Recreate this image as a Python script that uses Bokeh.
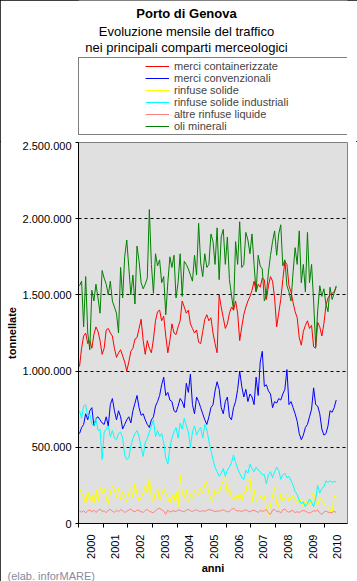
import numpy as np
from bokeh.plotting import figure
from bokeh.layouts import column
from bokeh.models import FixedTicker, Legend, LegendItem, Title, Label, Range1d
from bokeh.embed import file_html
from bokeh.resources import INLINE

# ---------------- data (monthly, thousand tonnes, Jan 2000 - Jun 2010) ----------------
years = ["2000", "2001", "2002", "2003", "2004", "2005", "2006", "2007", "2008", "2009", "2010"]
y_ticks = [0, 500000, 1000000, 1500000, 2000000, 2500000]
y_tick_labels = ["0", "500.000", "1.000.000", "1.500.000", "2.000.000", "2.500.000"]
series_names = ["merci containerizzate", "merci convenzionali", "rinfuse solide",
                "rinfuse solide industriali", "altre rinfuse liquide", "oli minerali"]
series_colors = ["#FF0000", "#0000FF", "#FFFF00", "#00FFFF", "#FF8080", "#008000"]

merci_containerizzate = [
    1030, 1150, 1230, 1250, 1180, 1200, 1150, 1240, 1290, 1260, 1200, 1110,
    1150, 1270, 1280, 1250, 1230, 1150, 1090, 1120, 1140, 1100, 1060, 1000,
    1060, 1130, 1150, 1210, 1220, 1280, 1340, 1200, 1110, 1200, 1150, 1120,
    1210, 1330, 1390, 1400, 1330, 1360, 1230, 1120, 1200, 1310, 1250, 1240,
    1290, 1330, 1460, 1420, 1380, 1400, 1310, 1280, 1250, 1270, 1190, 1180,
    1260, 1340, 1370, 1330, 1350, 1250, 1180, 1120, 1500, 1420, 1350, 1280,
    1310, 1380, 1420, 1400, 1460, 1380, 1200, 1290, 1370, 1420, 1460, 1490,
    1530, 1590, 1520, 1570, 1550, 1610, 1600, 1470, 1560, 1620, 1590, 1480,
    1290, 1380, 1470, 1600, 1720, 1700, 1560, 1520, 1450, 1390, 1350, 1220,
    1170, 1260, 1300, 1330, 1280, 1300, 1160, 1150, 1320, 1290, 1230, 1310,
    1430, 1480, 1500, 1510, 1520, 1550,
]
merci_convenzionali = [
    590, 630, 650, 720, 680, 740, 760, 640, 690, 700, 680, 660,
    650, 700, 640, 780, 820, 740, 680, 740, 700, 620, 650, 680,
    700, 660, 740, 790, 840, 760, 710, 720, 680, 650, 630, 680,
    700, 770, 800, 840, 910, 960, 840, 860, 810, 800, 740, 730,
    770, 820, 800, 760, 920, 860, 980, 780, 720, 830, 800, 760,
    720, 680, 650, 700, 760, 780, 870, 930, 880, 760, 720, 800,
    830, 700, 680, 760, 800, 880, 1000, 900, 830, 880, 800, 850,
    830, 780, 960, 840, 1060, 1130, 900, 910, 870, 850, 760, 800,
    790, 820, 810, 850, 880, 1010, 780, 800, 760, 720, 670, 590,
    550, 580, 630, 650, 700, 750, 890, 780, 770, 720, 620, 580,
    590, 640, 740, 730, 760, 810,
]
rinfuse_solide = [
    230, 200, 170, 130, 210, 150, 190, 130, 220, 140, 240, 200,
    230, 170, 130, 200, 250, 220, 170, 230, 160, 210, 180, 140,
    200, 230, 170, 260, 190, 150, 170, 200, 250, 200, 300, 170,
    140, 210, 230, 150, 190, 230, 200, 170, 130, 190, 150, 210,
    110, 320, 200, 170, 220, 140, 190, 170, 220, 210, 190, 230,
    200, 260, 270, 200, 160, 150, 220, 200, 200, 250, 280, 300,
    200, 230, 170, 150, 190, 160, 200, 150, 200, 210, 280, 300,
    140, 220, 150, 170, 180, 160, 180, 100, 50, 120, 180, 240,
    130, 110, 200, 150, 170, 190, 150, 170, 180, 150, 130, 170,
    140, 110, 150, 130, 110, 180, 200, 140, 120, 170, 150, 130,
    120, 110, 90, 70, 180, 160,
]
rinfuse_solide_industriali = [
    740, 690, 770, 780, 700, 720, 650, 640, 690, 610, 620, 420,
    600, 620, 640, 570, 610, 560, 550, 590, 600, 560, 450, 420,
    430, 510, 560, 590, 610, 570, 500, 440, 530, 560, 600, 640,
    680, 570, 610, 570, 590, 530, 430, 390, 500, 560, 600, 630,
    560, 660, 620, 690, 640, 600, 500, 600, 640, 580, 610, 630,
    560, 650, 620, 540, 480, 420, 370, 340, 310, 330, 360, 310,
    350, 370, 400, 450, 400, 360, 330, 300, 290, 350, 330, 390,
    360, 340, 370, 350, 340, 320, 320, 260, 320, 340, 300, 340,
    370, 350, 290, 320, 330, 300, 310, 280, 250, 210, 190, 150,
    130, 140, 110, 130, 160, 140, 110, 160, 250, 200, 230, 240,
    280, 270, 280, 270, 275, 275,
]
altre_rinfuse_liquide = [
    80, 75, 85, 70, 82, 90, 76, 88, 72, 85, 95, 78,
    84, 70, 88, 92, 80, 74, 86, 78, 90, 85, 72, 80,
    88, 95, 82, 76, 90, 84, 78, 72, 86, 92, 80, 75,
    70, 85, 95, 100, 90, 82, 60, 88, 75, 80, 84, 78,
    90, 85, 80, 76, 88, 92, 84, 79, 86, 90, 82, 78,
    85, 80, 86, 92, 88, 84, 78, 82, 80, 86, 90, 84,
    76, 80, 92, 100, 88, 82, 84, 78, 86, 90, 82, 76,
    84, 88, 80, 72, 86, 80, 84, 90, 70, 60, 88, 92,
    78, 82, 68, 90, 95, 80, 74, 82, 86, 70, 78, 72,
    80, 86, 82, 74, 68, 76, 84, 80, 90, 70, 60, 76,
    82, 75, 70, 72, 80, 72,
]
oli_minerali = [
    1560, 1590, 1290, 1620, 1250, 1140, 1530, 1460, 1570, 1480, 1380, 1660,
    1610, 1570, 1500, 1590, 1460, 1420, 1380, 1250, 1680, 1480, 1750, 1860,
    1680, 1500, 1630, 1440, 1820, 1720, 1580, 1540, 1570, 1610, 2060, 1700,
    1510, 1770, 1690, 1730, 1580, 1620, 1370, 1580, 1750, 1680, 1760, 1480,
    1580, 1770, 1490, 1720, 1700, 1670, 1630, 1590, 1760, 1630, 1970, 1710,
    1620, 1770, 1680, 1700, 1900, 1850, 1700, 1940, 1600, 1880, 1930, 1700,
    1880, 1600, 1500, 1400, 1850, 1700, 1980, 1680, 1700, 1910, 1860, 1770,
    1900, 1700, 1520, 1760, 1690, 1670, 1460, 1500, 1650, 1760, 1850, 1920,
    1760, 1900, 1960, 1690, 1730, 1560, 1520, 1460, 1650, 1810, 1700, 1920,
    1580, 1700, 1520, 1910, 1580, 1700, 1460, 1160, 1400, 1560, 1490, 1540,
    1440, 1390, 1550, 1470, 1510, 1560,
]
series_values = [merci_containerizzate, merci_convenzionali, rinfuse_solide,
                 rinfuse_solide_industriali, altre_rinfuse_liquide, oli_minerali]

n_categories = 131  # axis span in months
months = np.arange(len(merci_containerizzate)) + 0.5

FONT = "Liberation Sans"
W = 357
LEFT, RIGHT = 78, 10
TH = 141          # header strip height (titles + legend)
MH = 581 - TH     # main chart height

# ---------------- header strip: titles and legend ----------------
# its frame is aligned with the chart frame (x 78..347); data units = pixels
head = figure(width=W, height=TH, output_backend="svg", toolbar_location=None,
              x_range=Range1d(LEFT, W - RIGHT), y_range=Range1d(0, TH),
              min_border_left=LEFT, min_border_right=RIGHT, min_border_top=0,
              min_border_bottom=0, x_axis_type=None, y_axis_type=None,
              background_fill_color="white", border_fill_color="white",
              outline_line_color=None)
head.grid.visible = False

title_specs = [("Porto di Genova", "bold", 13), ("Evoluzione mensile del traffico", "normal", 31),
               ("nei principali comparti merceologici", "normal", 47)]
for txt, style, fig_y in title_specs:
    head.add_layout(Label(x=186, y=TH - fig_y, text=txt, text_align="center",
                          text_baseline="middle", text_font=FONT, text_font_size="13px",
                          text_font_style=style, text_color="black"))

# legend key lines: the same series, drawn far outside this strip's range
legend_items = []
for name, vals, col in zip(series_names, series_values, series_colors):
    rr = head.line(months, np.array(vals) * 1000, line_color=col, line_width=1)
    legend_items.append(LegendItem(label=name, renderers=[rr]))

legend = Legend(items=legend_items, location=(0, 6),
                title=" ", title_location="left", title_standoff=52,
                title_text_font_size="11px",
                padding=2, spacing=0, margin=0,
                glyph_width=24, glyph_height=10, label_height=10,
                label_standoff=5, label_width=174,
                label_text_font=FONT, label_text_font_size="11px",
                border_line_color="black", border_line_width=1,
                background_fill_color="white", background_fill_alpha=1)
head.add_layout(legend)

# ---------------- main chart ----------------
p = figure(width=W, height=MH, output_backend="svg", toolbar_location=None,
           x_range=Range1d(0, n_categories), y_range=Range1d(0, 2500000),
           min_border_left=LEFT, min_border_right=RIGHT, min_border_top=1, min_border_bottom=58,
           background_fill_color="#E0E0E0", border_fill_color="white",
           outline_line_color="#808080", outline_line_width=1)

# y axis
p.yaxis.ticker = FixedTicker(ticks=y_ticks)
p.yaxis.major_label_overrides = {t: s for t, s in zip(y_ticks, y_tick_labels)}
p.yaxis.minor_tick_line_color = None
p.yaxis.major_tick_out = 3
p.yaxis.major_tick_in = 0
p.yaxis.major_label_standoff = 4
p.yaxis.major_label_text_font = FONT
p.yaxis.major_label_text_font_size = "11px"
p.yaxis.major_label_text_color = "black"
p.yaxis.axis_line_color = "black"
p.yaxis.major_tick_line_color = "black"
p.yaxis.axis_label = "tonnellate"
p.yaxis.axis_label_text_font = FONT
p.yaxis.axis_label_text_font_size = "11px"
p.yaxis.axis_label_text_font_style = "bold"
p.yaxis.axis_label_text_color = "black"
p.yaxis.axis_label_standoff = 2

# x axis: year labels centred between yearly tick marks
p.xaxis.ticker = FixedTicker(ticks=[6 + 12 * k for k in range(len(years))],
                             minor_ticks=[12 * k for k in range(len(years))])
p.xaxis.major_label_overrides = {6 + 12 * k: y for k, y in enumerate(years)}
p.xaxis.major_tick_line_color = None
p.xaxis.major_tick_out = 0
p.xaxis.major_tick_in = 0
p.xaxis.minor_tick_line_color = "black"
p.xaxis.minor_tick_out = 4
p.xaxis.minor_tick_in = 0
p.xaxis.major_label_orientation = np.pi / 2
p.xaxis.major_label_standoff = 7
p.xaxis.major_label_text_font = FONT
p.xaxis.major_label_text_font_size = "11px"
p.xaxis.major_label_text_color = "black"
p.xaxis.axis_line_color = "black"
p.xaxis.axis_label = "anni"
p.xaxis.axis_label_text_font = FONT
p.xaxis.axis_label_text_font_size = "11px"
p.xaxis.axis_label_text_font_style = "bold"
p.xaxis.axis_label_text_color = "black"
p.xaxis.axis_label_standoff = 0

# grid
p.xgrid.visible = False
p.ygrid.ticker = FixedTicker(ticks=y_ticks[1:-1])
p.ygrid.grid_line_color = "black"
p.ygrid.grid_line_dash = "3 3"
p.ygrid.grid_line_width = 1

for name, vals, col in zip(series_names, series_values, series_colors):
    p.line(months, np.array(vals) * 1000, line_color=col, line_width=1)

p.add_layout(Title(text="(elab. inforMARE)", align="left", vertical_align="top",
                   offset=-71, standoff=-14,
                   text_font=FONT, text_font_size="11px", text_font_style="normal",
                   text_color="#8A8AA0"), "below")

layout = column(head, p, spacing=0,
                styles={"outline": "1px solid black", "outline-offset": "-1px"})
open("out.html", "w").write(file_html(layout, INLINE))
